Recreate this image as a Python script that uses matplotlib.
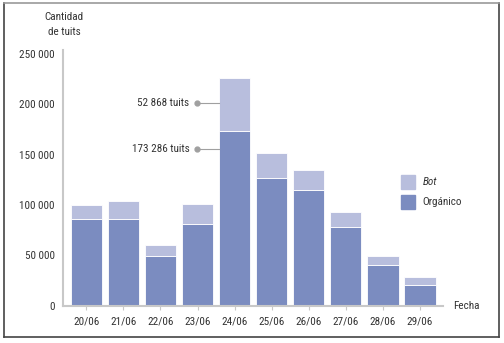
import matplotlib
matplotlib.use("Agg")
import matplotlib.pyplot as plt
from matplotlib.patches import Rectangle
from matplotlib.lines import Line2D
from matplotlib import font_manager

names = {f.name for f in font_manager.fontManager.ttflist}
cands = ["Liberation Sans Narrow", "Roboto Condensed", "Open Sans Condensed", "DejaVu Sans Condensed", "Noto Sans Condensed"]
chosen = [c for c in cands if c in names]
plt.rcParams['font.family'] = chosen + ['DejaVu Sans'] if chosen else ['DejaVu Sans']
if not chosen:
    plt.rcParams['font.stretch'] = 'condensed'
FS = 8 if chosen else 7.5

fechas = ["20/06", "21/06", "22/06", "23/06", "24/06", "25/06", "26/06", "27/06", "28/06", "29/06"]
organico = [86000, 86000, 49500, 80700, 173286, 126700, 115100, 78000, 40600, 20400]
bot = [14300, 17600, 10300, 20000, 52868, 24600, 19900, 14900, 8600, 7900]
yticks = [0, 50000, 100000, 150000, 200000, 250000]
ytick_labels = ["0", "50 000", "100 000", "150 000", "200 000", "250 000"]

c_org = "#7b8cc0"
c_bot = "#b8bedd"
txt = "#333333"
axis_c = "#c8c8c8"

fig = plt.figure(figsize=(5.04, 3.43), dpi=100)
ax = fig.add_axes([63.3/504, 1-305.5/343, (443-63.3)/504, (305.5-50)/343])

x = list(range(len(fechas)))
ax.bar(x, organico, width=0.84, color=c_org, edgecolor="white", linewidth=0.6)
ax.bar(x, bot, bottom=organico, width=0.84, color=c_bot, edgecolor="white", linewidth=0.6)

ax.set_xlim(-0.62, 9.62)
ax.set_ylim(0, 254000)
ax.set_yticks(yticks)
ax.set_yticklabels(ytick_labels)
ax.set_xticks(x)
ax.set_xticklabels(fechas)
for s in ["top", "right"]:
    ax.spines[s].set_visible(False)
for s in ["left", "bottom"]:
    ax.spines[s].set_color(axis_c)
    ax.spines[s].set_linewidth(1.5)
ax.tick_params(axis="y", length=0, pad=6, labelsize=FS, labelcolor=txt)
ax.tick_params(axis="x", length=3, color=axis_c, pad=5, labelsize=FS, labelcolor=txt)

# axis titles
fig.text(64/504, 1-17/343, "Cantidad", ha="center", va="center", fontsize=FS, color=txt)
fig.text(64/504, 1-32/343, "de tuits", ha="center", va="center", fontsize=FS, color=txt)
fig.text(453/504, 1-306/343, "Fecha", ha="left", va="center", fontsize=FS, color=txt)

# annotations
x0 = 4 - 0.42
for yv, label in [(201000, "52 868 tuits"), (155600, "173 286 tuits")]:
    ax.plot([x0 - 0.59, x0], [yv, yv], color="#a0a0a0", lw=0.8, clip_on=False)
    ax.plot([x0 - 0.59], [yv], "o", color="#a0a0a0", ms=3.5, clip_on=False)
    ax.text(x0 - 0.8, yv, label, ha="right", va="center", fontsize=FS, color=txt)

# legend
fig.patches.append(Rectangle((401/504, 1-189/343), 14/504, 14/343, transform=fig.transFigure, color=c_bot))
fig.patches.append(Rectangle((401/504, 1-209/343), 14/504, 14/343, transform=fig.transFigure, color=c_org))
fig.text(423/504, 1-182/343, "Bot", style="italic", ha="left", va="center", fontsize=FS, color=txt)
fig.text(422/504, 1-202/343, "Orgánico", ha="left", va="center", fontsize=FS, color=txt)

# border
fig.lines.append(Line2D([4/504, 4/504], [1-3/343, 1-336.7/343], transform=fig.transFigure, color="#444444", lw=1.2))
fig.lines.append(Line2D([499.3/504, 499.3/504], [1-3/343, 1-336.7/343], transform=fig.transFigure, color="#444444", lw=1.2))
fig.lines.append(Line2D([4/504, 499.3/504], [1-336.7/343, 1-336.7/343], transform=fig.transFigure, color="#444444", lw=1.2))
fig.lines.append(Line2D([4/504, 499.3/504], [1-3/343, 1-3/343], transform=fig.transFigure, color="#999999", lw=1.2))

fig.savefig("out.png", dpi=100)
